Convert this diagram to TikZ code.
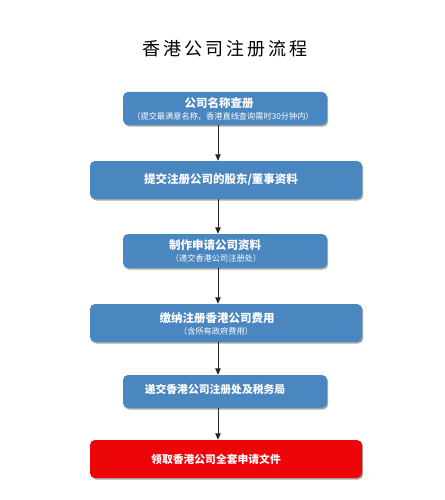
\documentclass[tikz,border=0pt]{standalone}
\usepackage{fontspec}
\newfontfamily\cjk{Noto Sans CJK SC}
\usetikzlibrary{shadows,arrows.meta}
\definecolor{boxblue}{RGB}{74,134,192}
\definecolor{boxred}{RGB}{236,6,10}
\tikzset{
  flowbox/.style={rounded corners=5pt, draw=none, fill=boxblue, text=white,
    drop shadow={shadow xshift=1.2pt, shadow yshift=-1.5pt, fill=black!55, opacity=0.6}},
  redbox/.style={flowbox, fill=boxred},
  anchorbox/.style={inner sep=0pt, draw=none, fill=none},
  flowarrow/.style={draw=black!85, line width=0.9pt, -{Triangle[length=6.5pt,width=5.5pt]}},
  maintext/.style={font=\cjk\bfseries\fontsize{11.5}{13}\selectfont, text=white},
  subtext/.style={font=\cjk\fontsize{8.2}{10}\selectfont, text=white},
}
\begin{document}
\begin{tikzpicture}[x=1pt,y=-1pt]
\useasboundingbox[fill=white] (0,0) rectangle (444,500);
\node (title) at (225,49) {\cjk\fontsize{18}{20}\selectfont 香\,港\,公\,司\,注\,册\,流\,程};
% boxes
\path[flowbox] (123,92) rectangle (327,125);
\node[anchorbox, minimum width=204pt, minimum height=33pt] (b1) at (225,108.5) {};
\node[maintext] (b1t) at (219,103) {公司名称查册};
\node[subtext] (b1s) at (223,116) {（提交最满意名称，香港直线查询需时30分钟内）};

\path[flowbox] (90,161) rectangle (362,199);
\node[anchorbox, minimum width=272pt, minimum height=38pt] (b2) at (226,180) {};
\node[maintext] (b2t) at (221,180) {提交注册公司的股东/董事资料};

\path[flowbox] (123,234) rectangle (327,268);
\node[anchorbox, minimum width=204pt, minimum height=34pt] (b3) at (225,251) {};
\node[maintext] (b3t) at (215,245) {制作申请公司资料};
\node[subtext] (b3s) at (216,258) {（递交香港公司注册处）};

\path[flowbox] (90,304) rectangle (362,342);
\node[anchorbox, minimum width=272pt, minimum height=38pt] (b4) at (226,323) {};
\node[maintext] (b4t) at (217,318) {缴纳注册香港公司费用};
\node[subtext] (b4s) at (216,331) {（含所有政府费用）};

\path[flowbox] (123,375) rectangle (327,408);
\node[anchorbox, minimum width=204pt, minimum height=33pt] (b5) at (225,391.5) {};
\node[maintext, font=\cjk\bfseries\fontsize{10.8}{13}\selectfont] (b5t) at (215,389) {递交香港公司注册处及税务局};

\path[redbox] (90,440) rectangle (362,478);
\node[anchorbox, minimum width=272pt, minimum height=38pt] (b6) at (226,459) {};
\node[maintext, font=\cjk\bfseries\fontsize{10.8}{13}\selectfont] (b6t) at (216,459) {领取香港公司全套申请文件};

% arrows
\draw[flowarrow] ([xshift=-7pt]b1.south) -- ([xshift=-8pt]b2.north);
\draw[flowarrow] ([xshift=-8pt]b2.south) -- ([xshift=-7pt]b3.north);
\draw[flowarrow] ([xshift=-7pt]b3.south) -- ([xshift=-8pt]b4.north);
\draw[flowarrow] ([xshift=-8pt]b4.south) -- ([xshift=-7pt]b5.north);
\draw[flowarrow] ([xshift=-7pt]b5.south) -- ([xshift=-8pt]b6.north);
\end{tikzpicture}
\end{document}
